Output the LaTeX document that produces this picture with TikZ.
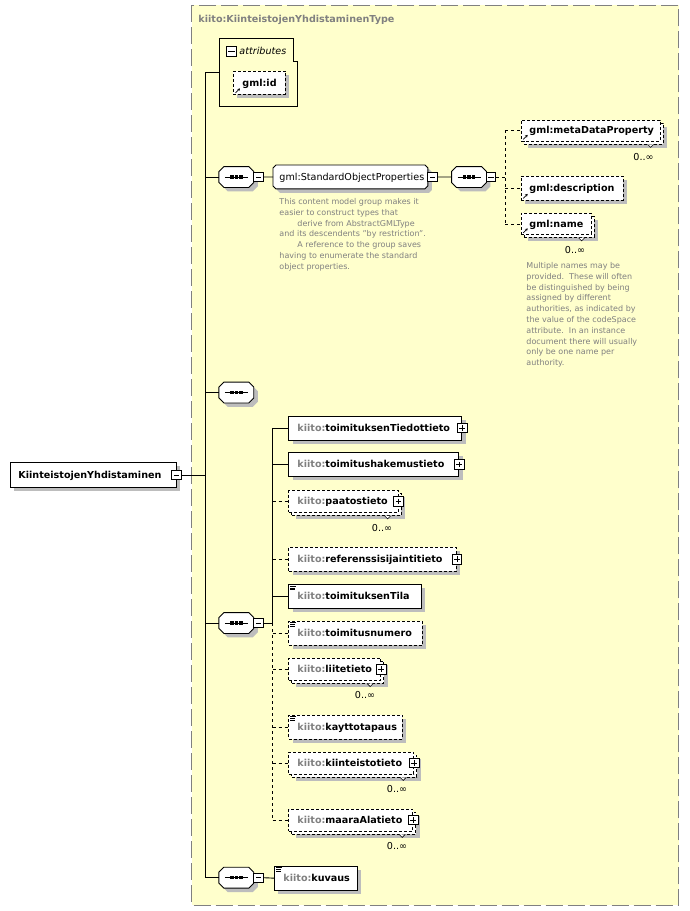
\documentclass[tikz,border=0pt]{standalone}
\usepackage{fontspec}
\setmainfont{DejaVu Sans}
\usetikzlibrary{calc,shadows,arrows.meta}
\definecolor{ybg}{HTML}{FFFFCC}
\definecolor{bord}{HTML}{808080}
\definecolor{pfx}{HTML}{808080}
\definecolor{shd}{HTML}{BDBDBD}
\definecolor{annoc}{HTML}{808080}
\newcommand\fsn{\fontsize{9.6}{11.5}\selectfont}
\newcommand\fsa{\fontsize{8}{10.8}\selectfont}
\newcommand\kpf{{\color{pfx}kiito:}}
\newcommand\OctPath[2]{($(#1.north west)+(#2,0)$) -- ($(#1.north east)+(-#2,0)$) -- ($(#1.north east)+(0,#2)$) -- ($(#1.south east)+(0,-#2)$) -- ($(#1.south east)+(-#2,0)$) -- ($(#1.south west)+(#2,0)$) -- ($(#1.south west)+(0,-#2)$) -- ($(#1.north west)+(0,#2)$) -- cycle}
\newcommand\SeqDraw[1]{%
  \fill[shd, transform canvas={shift={(4pt,-4pt)}}] \OctPath{#1}{5};
  \draw[fill=white] \OctPath{#1}{5};
  \draw[line width=0.8pt] ($(#1.center)+(-11.5,0)$) -- ($(#1.center)+(11.5,0)$);
  \foreach \dx in {-4.5,0,4.5} \fill ($(#1.center)+(\dx-1.7,-1.7)$) rectangle ($(#1.center)+(\dx+1.7,1.7)$);
}
\newcommand\SimpleIcon[1]{\draw[line width=0.6pt] ($(#1.north west)+(2,2)$) -- ++(6,0) ($(#1.north west)+(2,3.8)$) -- ++(5,0) ($(#1.north west)+(2,5.6)$) -- ++(5,0);}
\newcommand\RefIcon[1]{\draw[line width=0.7pt, -{Stealth[length=2.6pt,width=2.8pt]}] ($(#1.south west)+(2.5,-2)$) -- ++(4.5,-4.5);}
\newcommand\Vtick[2]{\draw[fill=white, line width=0.6pt] ($(#1.south east)+(-#2-3,0)$) -- ++(3,3) -- ++(3,-3);}
\tikzset{
  shadowed/.style={drop shadow={shadow xshift=4pt,shadow yshift=-4pt,fill=shd,opacity=1}},
  ebox/.style={draw, fill=white, inner sep=0pt, anchor=north west, minimum height=24pt},
  sbox/.style={ebox, shadowed},
  dbox/.style={ebox, shadowed, dash pattern=on 3pt off 2pt},
  dfront/.style={ebox, minimum height=22pt, dash pattern=on 3pt off 2pt},
  dback/.style={ebox, minimum height=22pt, dash pattern=on 3pt off 2pt, shadowed},
  txt/.style={inner sep=0pt, anchor=base west, font=\fsn\bfseries},
  ntxt/.style={inner sep=0pt, anchor=base west, font=\fsn},
  annot/.style={inner sep=0pt, anchor=north west, align=left, font=\fsa, text=annoc},
  mult/.style={inner sep=0pt, font=\fsn},
  pmbox/.style={draw, fill=white, inner sep=0pt, minimum size=9.5pt, line width=0.8pt},
  mbox/.style={pmbox, path picture={\draw[line width=0.8pt] ([xshift=2pt]path picture bounding box.west) -- ([xshift=-2pt]path picture bounding box.east);}},
  pbox/.style={pmbox, path picture={\draw[line width=0.8pt] ([xshift=2pt]path picture bounding box.west) -- ([xshift=-2pt]path picture bounding box.east); \draw[line width=0.8pt] ([yshift=-2pt]path picture bounding box.north) -- ([yshift=2pt]path picture bounding box.south);}},
  seqn/.style={inner sep=0pt, minimum width=34pt, minimum height=20pt},
  conn/.style={line width=0.9pt},
  dconn/.style={line width=0.9pt, dash pattern=on 3pt off 3pt},
}
\begin{document}
\begin{tikzpicture}[x=1pt,y=-1pt,line width=0.9pt]
\useasboundingbox (0,0) rectangle (690,911);
\fill[white] (0,0) rectangle (690,911);
\draw[bord, line width=1pt, dash pattern=on 17pt off 5pt, fill=ybg] (191.5,5) rectangle (678.8,905);
\node[txt, text=pfx] (title) at (198,22.4) {kiito:KiinteistojenYhdistaminenType};

% attributes
\node[inner sep=0pt, minimum width=77.7pt, minimum height=67.7pt, anchor=north west] (attr) at (219,38) {};
\draw (attr.north west) -- ($(attr.north east)+(-4,0)$) -- ($(attr.north east)+(-4,23.7)$) -- ($(attr.north east)+(0,23.7)$) -- (attr.south east) -- (attr.south west) -- cycle;
\node[mbox, minimum width=10.5pt, minimum height=10pt] (attrpm) at (231.5,51) {};
\node[inner sep=0pt, anchor=base west, font=\fsn\itshape] (attrt) at (239,54.4) {attributes};
\node[dbox, minimum width=52pt, minimum height=23.3pt] (gid) at (233,70.7) {};
\node[txt] (gidt) at ($(gid.west)+(9,3.4)$) {gml:id};
\RefIcon{gid}

% root
\node[sbox, minimum width=165.7pt, minimum height=25pt] (root) at (10,462) {};
\node[txt] (roott) at ($(root.west)+(8,3.4)$) {KiinteistojenYhdistaminen};
\node[mbox] (rootpm) at (root.east) {};
\coordinate (T) at (205,0);

% gml group
\node[seqn] (s1) at (236.3,177) {};
\SeqDraw{s1}
\node[mbox] (s1pm) at (258.5,177) {};
\node[inner sep=0pt, minimum width=154pt, minimum height=23pt, anchor=north west] (sop) at (273,165) {};
\fill[shd, transform canvas={shift={(4pt,-4pt)}}] \OctPath{sop}{3};
\draw[fill=white] \OctPath{sop}{3};
\node[ntxt] (sopt) at ($(sop.west)+(6,3.4)$) {gml:StandardObjectProperties};
\node[mbox] (soppm) at ($(sop.east)+(4.6,0)$) {};
\node[seqn] (s2) at (469,177) {};
\SeqDraw{s2}
\node[mbox] (s2pm) at (491,177) {};
\node[annot] (sopa) at (279,198) {This content model group makes it\\easier to construct types that\\\hspace*{18pt}derive from AbstractGMLType\\and its descendents "by restriction".\\\hspace*{18pt}A reference to the group saves\\having to enumerate the standard\\object properties.};

\coordinate (G) at (505,0);
\node[dback, minimum width=139pt, minimum height=21pt] (metab) at (523.7,122.5) {};
\node[dfront, minimum width=139pt, minimum height=21pt] (meta) at (520.7,119.5) {};
\node[txt] (metat) at ($(meta.west)+(8.3,3.4)$) {gml:metaDataProperty};
\RefIcon{meta}
\Vtick{metab}{13}
\node[mult] (metam) at (643.5,157) {0..∞};
\node[dbox, minimum width=102pt] (desc) at (520.7,175.5) {};
\node[txt] (desct) at ($(desc.west)+(8.3,3.4)$) {gml:description};
\RefIcon{desc}
\node[dback, minimum width=70pt, minimum height=21pt] (nameb) at (523.7,216) {};
\node[dfront, minimum width=70pt, minimum height=21pt] (name) at (520.7,213) {};
\node[txt] (namet) at ($(name.west)+(8.3,3.4)$) {gml:name};
\RefIcon{name}
\Vtick{nameb}{13}
\node[mult] (namem) at (575,250) {0..∞};
\node[annot] (namea) at (526,262) {Multiple names may be\\provided.\ \ These will often\\be distinguished by being\\assigned by different\\authorities, as indicated by\\the value of the codeSpace\\attribute.\ \ In an instance\\document there will usually\\only be one name per\\authority.};

\draw[conn] (s1pm.east) -- (sop.west);
\draw[conn] (soppm.east) -- (s2.west);
\draw[dconn] (s2pm.east) -- (s2pm.east -| G);
\draw[dconn] (meta.west -| G) -- (name.west -| G);
\draw[dconn] (meta.west -| G) -- (meta.west);
\draw[dconn] (desc.west -| G) -- (desc.west);
\draw[dconn] (name.west -| G) -- (name.west);

% empty sequence
\node[seqn] (s3) at (236.3,392.5) {};
\SeqDraw{s3}

% kiito sequence
\node[seqn] (s4) at (236.3,623) {};
\SeqDraw{s4}
\node[mbox] (s4pm) at (258.5,623) {};
\coordinate (K) at (272.7,0);

\node[sbox, minimum width=173pt] (c1) at (288.3,415.5) {};
\node[txt] (c1t) at ($(c1.west)+(8.7,3.4)$) {\kpf toimituksenTiedottieto};
\node[pbox] (c1pm) at (c1.east) {};

\node[sbox, minimum width=170pt] (c2) at (288.3,452) {};
\node[txt] (c2t) at ($(c2.west)+(8.7,3.4)$) {\kpf toimitushakemustieto};
\node[pbox] (c2pm) at (c2.east) {};

\node[dback, minimum width=109.4pt] (c3b) at (291.3,493) {};
\node[dfront, minimum width=109.4pt] (c3) at (288.3,490) {};
\node[txt] (c3t) at ($(c3.west)+(8.7,3.4)$) {\kpf paatostieto};
\node[pbox] (c3pm) at (c3.east) {};
\Vtick{c3b}{14}
\node[mult] (c3m) at (382,527.7) {0..∞};

\node[dbox, minimum width=167.7pt] (c4) at (288.3,546.7) {};
\node[txt] (c4t) at ($(c4.west)+(8.7,3.4)$) {\kpf referenssisijaintitieto};
\node[pbox] (c4pm) at (c4.east) {};

\node[sbox, minimum width=132.4pt] (c5) at (288.3,584) {};
\node[txt] (c5t) at ($(c5.west)+(8.7,3.4)$) {\kpf toimituksenTila};
\SimpleIcon{c5}

\node[dbox, minimum width=133.4pt] (c6) at (288.3,620.7) {};
\node[txt] (c6t) at ($(c6.west)+(8.7,3.4)$) {\kpf toimitusnumero};
\SimpleIcon{c6}

\node[dback, minimum width=92pt] (c7b) at (291.3,660.7) {};
\node[dfront, minimum width=92pt] (c7) at (288.3,657.7) {};
\node[txt] (c7t) at ($(c7.west)+(8.7,3.4)$) {\kpf liitetieto};
\node[pbox] (c7pm) at (c7.east) {};
\Vtick{c7b}{14}
\node[mult] (c7m) at (365,695) {0..∞};

\node[dbox, minimum width=113.4pt] (c8) at (288.3,714.5) {};
\node[txt] (c8t) at ($(c8.west)+(8.7,3.4)$) {\kpf kayttotapaus};
\SimpleIcon{c8}

\node[dback, minimum width=125pt] (c9b) at (291.3,754.5) {};
\node[dfront, minimum width=125pt] (c9) at (288.3,751.5) {};
\node[txt] (c9t) at ($(c9.west)+(8.7,3.4)$) {\kpf kiinteistotieto};
\node[pbox] (c9pm) at (c9.east) {};
\Vtick{c9b}{14}
\node[mult] (c9m) at (397,789) {0..∞};

\node[dback, minimum width=124pt] (c10b) at (291.3,811.5) {};
\node[dfront, minimum width=124pt] (c10) at (288.3,808.5) {};
\node[txt] (c10t) at ($(c10.west)+(8.7,3.4)$) {\kpf maaraAlatieto};
\node[pbox] (c10pm) at (c10.east) {};
\Vtick{c10b}{14}
\node[mult] (c10m) at (397,845.7) {0..∞};

\draw[conn] (s4pm.east) -- (s4pm.east -| K);
\draw[conn] (c1.west -| K) -- (s4pm.east -| K);
\draw[dconn] (s4pm.east -| K) -- (c10.west -| K);
\draw[conn] (c1.west -| K) -- (c1.west);
\draw[conn] (c2.west -| K) -- (c2.west);
\draw[dconn] (c3.west -| K) -- (c3.west);
\draw[dconn] (c4.west -| K) -- (c4.west);
\draw[conn] (c5.west -| K) -- (c5.west);
\draw[dconn] (c6.west -| K) -- (c6.west);
\draw[dconn] (c7.west -| K) -- (c7.west);
\draw[dconn] (c8.west -| K) -- (c8.west);
\draw[dconn] (c9.west -| K) -- (c9.west);
\draw[dconn] (c10.west -| K) -- (c10.west);

% kuvaus sequence
\node[seqn] (s5) at (236.3,877.7) {};
\SeqDraw{s5}
\node[mbox] (s5pm) at (258.5,877.7) {};
\node[sbox, minimum width=82.7pt] (kuv) at (274,865.7) {};
\node[txt] (kuvt) at ($(kuv.west)+(9,3.4)$) {\kpf kuvaus};
\SimpleIcon{kuv}
\draw[conn] (s5pm.east) -- (kuv.west);

% trunk
\draw[conn] (attr.west) -- (attr.west -| T) -- (s5.west -| T) -- (s5.west);
\draw[conn] (s1.west -| T) -- (s1.west);
\draw[conn] (s3.west -| T) -- (s3.west);
\draw[conn] (s4.west -| T) -- (s4.west);
\draw[conn] (rootpm.east) -- (rootpm.east -| T);
\end{tikzpicture}
\end{document}
